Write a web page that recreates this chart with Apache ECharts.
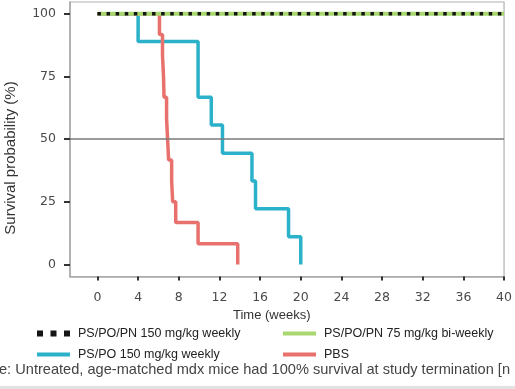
<!DOCTYPE html>
<html>
<head>
<meta charset="utf-8">
<script src="https://cdn.jsdelivr.net/npm/echarts@6/dist/echarts.min.js"></script>
<style>html,body{margin:0;padding:0;background:#fff;}#c{width:515px;height:389px;}</style>
</head>
<body>
<div id="c"></div>
<script>
// ---- data ----
const xTicks = [0, 4, 8, 12, 16, 20, 24, 28, 32, 36, 40];
const yTicks = [0, 25, 50, 75, 100];
const seriesNames = ['PS/PO/PN 150 mg/kg weekly', 'PS/PO/PN 75 mg/kg bi-weekly', 'PS/PO 150 mg/kg weekly', 'PBS'];
const pspopn150 = [[0, 100], [40, 100]];
const pspopn75 = [[0, 100], [40, 100]];
const pspo150 = [[0, 100], [4, 88.9], [9.9, 66.7], [11.2, 55.6], [12.3, 44.4], [15.2, 33.3], [15.55, 22.2], [18.8, 11.1], [20, 0]];
const pbs = [[0, 100], [6.1, 91.7], [6.4, 83.3], [6.5, 75], [6.55, 66.7], [6.8, 58.3], [6.9, 50], [7.0, 41.7], [7.3, 33.3], [7.4, 25], [7.7, 16.7], [9.9, 8.3], [13.8, 0]];
const refLine = 50;
const xTitle = 'Time (weeks)';
const yTitle = 'Survival probability (%)';
const footnote = 'e: Untreated, age-matched mdx mice had 100% survival at study termination [n';

const colors = {black: '#151515', green: '#a9d870', teal: '#2bb1c9', red: '#e8716d'};
const tickFont = {fontFamily: 'DejaVu Sans', fontSize: 12.5, color: '#4a4a4a'};
const chart = echarts.init(document.getElementById('c'), null, {renderer: 'canvas'});

function legendAt(left, top, name, icon, color) {
  return {
    left: left, top: top, padding: 0, itemGap: 0,
    itemWidth: 33, itemHeight: icon === 'dots' ? 6 : 4,
    data: [{name: name, icon: icon === 'dots' ? 'path://M0,0h6v6h-6z M13.5,0h6v6h-6z M27,0h6v6h-6z' : 'rect', itemStyle: {color: color}}],
    textStyle: {fontFamily: 'Liberation Sans', fontSize: 12.5, color: '#222', padding: [0, 0, 0, 3]},
    selectedMode: false
  };
}

chart.setOption({
  animation: false,
  grid: {left: 70, right: 10, top: 2, bottom: 112.5, show: true, borderColor: '#b0b0b0', borderWidth: 1.2},
  xAxis: {
    type: 'value', min: -2.7, max: 40,
    axisLine: {show: true, onZero: false, lineStyle: {color: '#a8a8a8', width: 1.5}},
    axisTick: {show: true, customValues: xTicks, length: 4, lineStyle: {color: '#333', width: 2}},
    axisLabel: {customValues: xTicks, margin: 15, ...tickFont},
    splitLine: {show: false}
  },
  yAxis: {
    type: 'value', min: -4.8, max: 104.7,
    axisLine: {show: true, onZero: false, lineStyle: {color: '#a8a8a8', width: 1.5}},
    axisTick: {show: true, customValues: yTicks, length: 6, lineStyle: {color: '#333', width: 2}},
    axisLabel: {customValues: yTicks, margin: 14, ...tickFont},
    splitLine: {show: false}
  },
  legend: [
    legendAt(37, 327, seriesNames[0], 'dots', colors.black),
    legendAt(283, 327, seriesNames[1], 'rect', colors.green),
    legendAt(37, 348, seriesNames[2], 'rect', colors.teal),
    legendAt(283, 348, seriesNames[3], 'rect', colors.red)
  ],
  series: [
    {name: seriesNames[2], type: 'line', step: 'end', data: pspo150, showSymbol: false, z: 2,
     lineStyle: {color: colors.teal, width: 3.5}, itemStyle: {color: colors.teal},
     markLine: {silent: true, symbol: 'none', label: {show: false}, lineStyle: {color: '#7a7a7a', width: 1.5, type: 'solid'}, data: [{yAxis: refLine}]}},
    {name: seriesNames[3], type: 'line', step: 'end', data: pbs, showSymbol: false, z: 3,
     lineStyle: {color: colors.red, width: 3.5}, itemStyle: {color: colors.red}},
    {name: seriesNames[1], type: 'line', data: pspopn75, showSymbol: false, z: 4,
     lineStyle: {color: colors.green, width: 4}, itemStyle: {color: colors.green}},
    {name: seriesNames[0], type: 'line', data: pspopn150, showSymbol: false, z: 5,
     lineStyle: {color: colors.black, width: 3.5, type: [3.5, 5.6], cap: 'butt'}, itemStyle: {color: colors.black}}
  ],
  graphic: [
    {type: 'text', left: 233, top: 309, style: {text: xTitle, font: '13px "Liberation Sans"', fill: '#333'}},
    {type: 'text', x: 11, y: 158, rotation: Math.PI / 2, style: {text: yTitle, font: '15px "Liberation Sans"', fill: '#333', align: 'center', verticalAlign: 'middle'}},
    {type: 'text', left: -1, top: 362, style: {text: footnote, font: '14.6px "Liberation Sans"', fill: '#444'}},
    {type: 'rect', shape: {x: 0, y: 386, width: 515, height: 3}, style: {fill: '#e2e2e2'}}
  ]
});
</script>
</body>
</html>
